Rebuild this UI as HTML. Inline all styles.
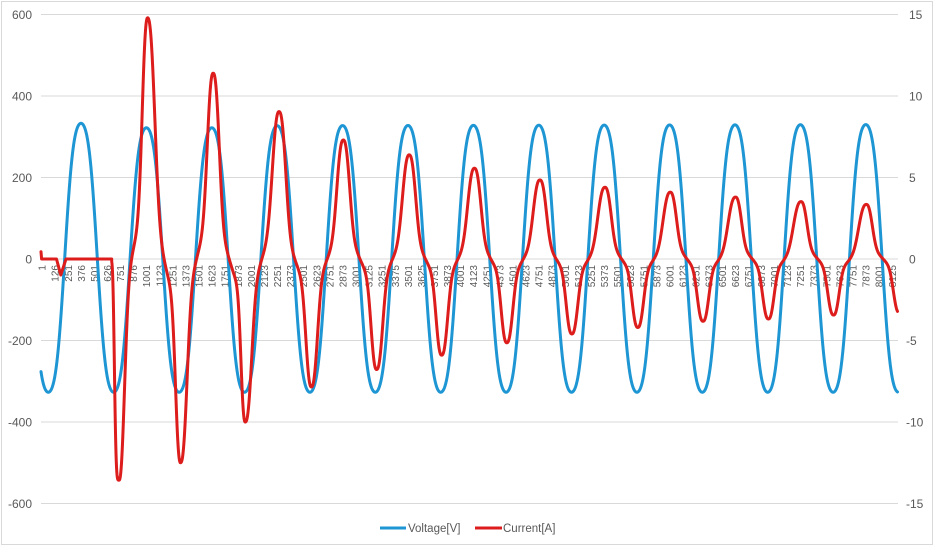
<!DOCTYPE html>
<html>
<head>
<meta charset="utf-8">
<style>
html,body{margin:0;padding:0;background:#fff;}
svg{display:block;}
text{font-family:"Liberation Sans",Arial,sans-serif;fill:#595959;}
</style>
</head>
<body>
<svg id="chart" width="934" height="547" viewBox="0 0 934 547" xmlns="http://www.w3.org/2000/svg">
<rect x="0" y="0" width="934" height="547" fill="#ffffff"/>
<rect x="1.5" y="1.5" width="931" height="543" fill="none" stroke="#D9D9D9" stroke-width="1"/>
<g stroke="#D9D9D9" stroke-width="1">
<line x1="41" y1="14.5" x2="898" y2="14.5"/>
<line x1="41" y1="96" x2="898" y2="96"/>
<line x1="41" y1="177.5" x2="898" y2="177.5"/>
<line x1="41" y1="259" x2="898" y2="259"/>
<line x1="41" y1="340.5" x2="898" y2="340.5"/>
<line x1="41" y1="422" x2="898" y2="422"/>
<line x1="41" y1="503.5" x2="898" y2="503.5"/>
</g>
<g font-size="12" text-anchor="end">
<text x="32" y="18.8">600</text>
<text x="32" y="100.3">400</text>
<text x="32" y="181.8">200</text>
<text x="32" y="263.3">0</text>
<text x="32" y="344.8">-200</text>
<text x="32" y="426.3">-400</text>
<text x="32" y="507.8">-600</text>
</g>
<g font-size="12" text-anchor="start">
<text x="909" y="18.8">15</text>
<text x="909" y="100.3">10</text>
<text x="909" y="181.8">5</text>
<text x="909" y="263.3">0</text>
<text x="906" y="344.8">-5</text>
<text x="906" y="426.3">-10</text>
<text x="906" y="507.8">-15</text>
</g>
<g id="xlabels" font-size="10" text-anchor="end">
<text transform="translate(45.6,265) rotate(-90)">1</text>
<text transform="translate(58.7,265) rotate(-90)">126</text>
<text transform="translate(71.8,265) rotate(-90)">251</text>
<text transform="translate(84.8,265) rotate(-90)">376</text>
<text transform="translate(97.9,265) rotate(-90)">501</text>
<text transform="translate(111,265) rotate(-90)">626</text>
<text transform="translate(124.1,265) rotate(-90)">751</text>
<text transform="translate(137.2,265) rotate(-90)">876</text>
<text transform="translate(150.2,265) rotate(-90)">1001</text>
<text transform="translate(163.3,265) rotate(-90)">1123</text>
<text transform="translate(176.4,265) rotate(-90)">1251</text>
<text transform="translate(189.5,265) rotate(-90)">1373</text>
<text transform="translate(202.6,265) rotate(-90)">1501</text>
<text transform="translate(215.6,265) rotate(-90)">1623</text>
<text transform="translate(228.7,265) rotate(-90)">1751</text>
<text transform="translate(241.8,265) rotate(-90)">1873</text>
<text transform="translate(254.9,265) rotate(-90)">2001</text>
<text transform="translate(268,265) rotate(-90)">2123</text>
<text transform="translate(281,265) rotate(-90)">2251</text>
<text transform="translate(294.1,265) rotate(-90)">2373</text>
<text transform="translate(307.2,265) rotate(-90)">2501</text>
<text transform="translate(320.3,265) rotate(-90)">2623</text>
<text transform="translate(333.4,265) rotate(-90)">2751</text>
<text transform="translate(346.4,265) rotate(-90)">2873</text>
<text transform="translate(359.5,265) rotate(-90)">3001</text>
<text transform="translate(372.6,265) rotate(-90)">3125</text>
<text transform="translate(385.7,265) rotate(-90)">3251</text>
<text transform="translate(398.8,265) rotate(-90)">3375</text>
<text transform="translate(411.8,265) rotate(-90)">3501</text>
<text transform="translate(424.9,265) rotate(-90)">3625</text>
<text transform="translate(438,265) rotate(-90)">3751</text>
<text transform="translate(451.1,265) rotate(-90)">3873</text>
<text transform="translate(464.2,265) rotate(-90)">4001</text>
<text transform="translate(477.2,265) rotate(-90)">4123</text>
<text transform="translate(490.3,265) rotate(-90)">4251</text>
<text transform="translate(503.4,265) rotate(-90)">4373</text>
<text transform="translate(516.5,265) rotate(-90)">4501</text>
<text transform="translate(529.6,265) rotate(-90)">4623</text>
<text transform="translate(542.6,265) rotate(-90)">4751</text>
<text transform="translate(555.7,265) rotate(-90)">4873</text>
<text transform="translate(568.8,265) rotate(-90)">5001</text>
<text transform="translate(581.9,265) rotate(-90)">5123</text>
<text transform="translate(595,265) rotate(-90)">5251</text>
<text transform="translate(608,265) rotate(-90)">5373</text>
<text transform="translate(621.1,265) rotate(-90)">5501</text>
<text transform="translate(634.2,265) rotate(-90)">5623</text>
<text transform="translate(647.3,265) rotate(-90)">5751</text>
<text transform="translate(660.4,265) rotate(-90)">5873</text>
<text transform="translate(673.4,265) rotate(-90)">6001</text>
<text transform="translate(686.5,265) rotate(-90)">6123</text>
<text transform="translate(699.6,265) rotate(-90)">6251</text>
<text transform="translate(712.7,265) rotate(-90)">6373</text>
<text transform="translate(725.8,265) rotate(-90)">6501</text>
<text transform="translate(738.8,265) rotate(-90)">6623</text>
<text transform="translate(751.9,265) rotate(-90)">6751</text>
<text transform="translate(765,265) rotate(-90)">6873</text>
<text transform="translate(778.1,265) rotate(-90)">7001</text>
<text transform="translate(791.2,265) rotate(-90)">7123</text>
<text transform="translate(804.2,265) rotate(-90)">7251</text>
<text transform="translate(817.3,265) rotate(-90)">7373</text>
<text transform="translate(830.4,265) rotate(-90)">7501</text>
<text transform="translate(843.5,265) rotate(-90)">7623</text>
<text transform="translate(856.6,265) rotate(-90)">7751</text>
<text transform="translate(869.6,265) rotate(-90)">7873</text>
<text transform="translate(882.7,265) rotate(-90)">8001</text>
<text transform="translate(895.8,265) rotate(-90)">8125</text>
</g>
<path id="vpath" d="" fill="none" stroke="#1E96D4" stroke-width="3" stroke-linejoin="round" stroke-linecap="round"/>
<path id="ipath" d="" fill="none" stroke="#DD1C1C" stroke-width="3" stroke-linejoin="round" stroke-linecap="round"/>
<line x1="380" y1="528" x2="406" y2="528" stroke="#1E96D4" stroke-width="3"/>
<text x="408" y="532" font-size="11.5">Voltage[V]</text>
<line x1="475" y1="528" x2="502" y2="528" stroke="#DD1C1C" stroke-width="3"/>
<text x="503" y="532" font-size="11.5">Current[A]</text>
</svg>
<script>
(function(){
var P=65.4, XP=81;
function interp(arr,x){
  if(x<=arr[0][0]) return arr[0][1];
  for(var i=1;i<arr.length;i++){
    if(x<=arr[i][0]){var a=arr[i-1],b=arr[i];return a[1]+(b[1]-a[1])*(x-a[0])/(b[0]-a[0]);}
  }
  return arr[arr.length-1][1];
}
var Apos=[[41,333],[100,333],[118,322],[225,322],[250,327],[900,330]];
var Aneg=[[41,327],[900,327]];
function V(x){
  var th=2*Math.PI*(x-XP)/P;
  var s=(Math.cos(th)-0.06*Math.cos(3*th))/0.94;
  return s*(s>0?interp(Apos,x):interp(Aneg,x));
}
var E=[
 [119,-13.57,0,7.7],
 [147.7,14.8,7.3,9.5],
 [180.7,-12.5,6.9,8.5],
 [213.3,11.4,8,8],
 [245.3,-10.0,5.8,8.6],
 [279.3,9.05,9.2,8.7],
 [311.5,-7.85,7.5,8],
 [343.3,7.3,8.5,8.5],
 [376.7,-6.78,7.5,8],
 [409.3,6.39,9,8.5],
 [441.7,-5.9,7.5,8],
 [474.5,5.57,9,8.5],
 [506.8,-5.14,7.5,8],
 [540,4.85,9,8.5],
 [571.8,-4.6,7.5,8],
 [605,4.4,9.5,8.3],
 [637.8,-4.2,7.6,7.8],
 [670.3,4.1,9.5,8.2],
 [703,-3.82,7.6,7.7],
 [735.5,3.8,9.8,8],
 [768.4,-3.68,7.7,7.6],
 [801,3.52,10,8],
 [833.5,-3.44,7.7,7.5],
 [866.3,3.35,10,8],
 [899.2,-3.3,7.7,7.5]
];
var ENV=[];
for(var q=0;q<E.length;q++){ENV.push([E[q][0],Math.abs(E[q][1])]);}
var KC=0.2, SS=0.92;
function smooth(a,b,x){ if(x<=a) return 0; if(x>=b) return 1; var t=(x-a)/(b-a); return t*t*(3-2*t); }
function I(x){
  var w=smooth(119,127,x);
  var f=1-KC*w;
  var s=0;
  for(var k=0;k<E.length;k++){
    var e=E[k], d=x-e[0], v, amp=e[1]*f;
    if(d<0){
      if(e[2]===0){ v=Math.exp(-Math.pow(-d/5,4)); amp=e[1]; }
      else v=Math.exp(-Math.pow(-d/(e[2]*SS),2.5));
    } else v=Math.exp(-Math.pow(d/(e[3]*SS),2.5));
    s+=amp*v;
  }
  var th=2*Math.PI*(x-82)/P;
  s+=w*KC*interp(ENV,x)*Math.cos(th);
  return s;
}
function yV(v){return 259 - v*81.5/200;}
function yI(i){return 259 - i*16.3;}
var x, dv=[], di=[];
var x0=41, x1=897.7, step=0.25;
for(x=x0;x<=x1+0.001;x+=step){
  dv.push((dv.length?"L":"M")+x.toFixed(2)+","+yV(V(x)).toFixed(2));
}
di.push("M41,251.7 L41.6,259 L56.5,259 L60.8,275 L66,259 L111.7,259");
for(x=111.75;x<=x1+0.001;x+=step){
  di.push("L"+x.toFixed(2)+","+yI(I(x)).toFixed(2));
}
document.getElementById("vpath").setAttribute("d",dv.join(" "));
document.getElementById("ipath").setAttribute("d",di.join(" "));
})();
</script>
</body>
</html>
